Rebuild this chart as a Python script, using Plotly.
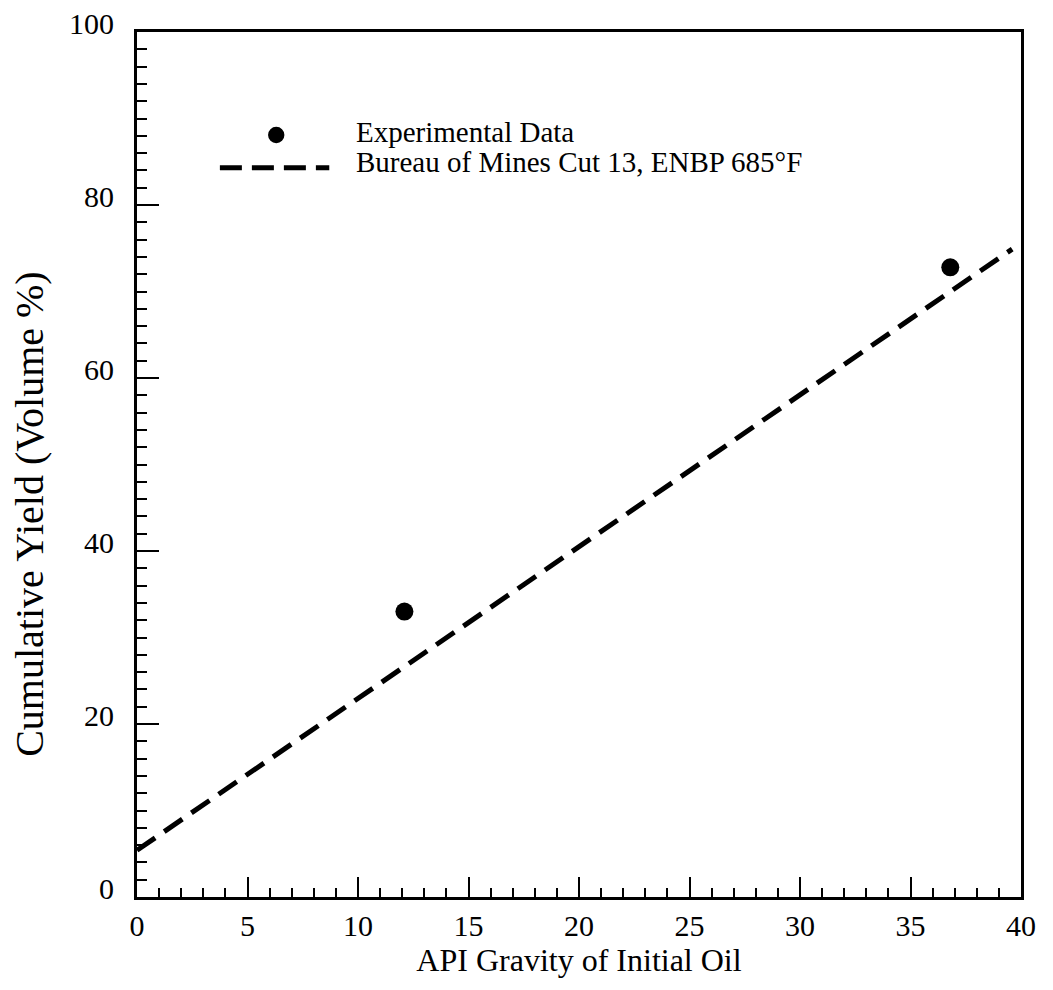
import plotly.graph_objects as go

# Experimental cumulative yields
api_exp = [12.1, 36.8]
yield_exp = [33.0, 72.8]

# Bureau of Mines correlation line (Cut 13, ENBP 685 F)
bom_api = [0.0, 39.6]
bom_yield = [5.4, 74.9]

legend_labels = ["Experimental Data", "Bureau of Mines Cut 13, ENBP 685\u00b0F"]

FONT = "Liberation Serif, Times New Roman, serif"

fig = go.Figure()

fig.add_trace(go.Scatter(
    x=bom_api, y=bom_yield, mode="lines",
    line=dict(color="black", width=5, dash="22px,11px"),
    showlegend=False, hoverinfo="skip",
))
fig.add_trace(go.Scatter(
    x=api_exp, y=yield_exp, mode="markers",
    marker=dict(color="black", size=18),
    showlegend=False,
))

# Hand-drawn legend key inside the plot area
fig.add_shape(type="circle", xref="x", yref="y",
              x0=6.3 - 0.37, x1=6.3 + 0.37, y0=88.1 - 0.95, y1=88.1 + 0.95,
              fillcolor="black", line=dict(color="black", width=0))
fig.add_shape(type="line", xref="x", yref="y",
              x0=3.75, x1=8.7, y0=84.3, y1=84.3,
              line=dict(color="black", width=5, dash="22px,10px"))
fig.add_annotation(x=9.8, y=88.4, xref="x", yref="y", text=legend_labels[0],
                   showarrow=False, xanchor="left", yanchor="middle",
                   font=dict(family=FONT, size=29, color="black"))
fig.add_annotation(x=9.8, y=85.0, xref="x", yref="y", text=legend_labels[1],
                   showarrow=False, xanchor="left", yanchor="middle",
                   font=dict(family=FONT, size=29, color="black"))

# Y-axis title placed as a rotated annotation
fig.add_annotation(x=-0.121, y=0.443, xref="paper", yref="paper",
                   text="Cumulative Yield (Volume %)", textangle=-90,
                   showarrow=False, xanchor="center", yanchor="middle",
                   font=dict(family=FONT, size=40, color="black"))

fig.update_layout(
    width=1053, height=990,
    margin=dict(l=137, r=32, t=32, b=93, autoexpand=False),
    paper_bgcolor="white", plot_bgcolor="white",
    font=dict(family=FONT, size=29, color="black"),
    showlegend=False,
)

fig.update_xaxes(
    range=[0, 40], dtick=5, tick0=0, automargin=False,
    ticks="inside", ticklen=20, tickwidth=2, tickcolor="black",
    minor=dict(dtick=1, ticks="inside", ticklen=9, tickwidth=2, tickcolor="black"),
    showgrid=False, zeroline=False,
    showline=True, linecolor="black", linewidth=3, mirror=True,
    tickfont=dict(family=FONT, size=30, color="black"),
    title=dict(text="API Gravity of Initial Oil", standoff=6,
               font=dict(family=FONT, size=32, color="black")),
)
fig.update_yaxes(
    range=[0, 100], dtick=20, tick0=0, automargin=False,
    ticks="inside", ticklen=22, tickwidth=2, tickcolor="black",
    minor=dict(dtick=2, ticks="inside", ticklen=10, tickwidth=2, tickcolor="black"),
    showgrid=False, zeroline=False,
    showline=True, linecolor="black", linewidth=3, mirror=True,
    tickfont=dict(family=FONT, size=30, color="black"),
    ticklabelstandoff=14, ticklabelshift=-9,
)

fig.write_html("out.html")
